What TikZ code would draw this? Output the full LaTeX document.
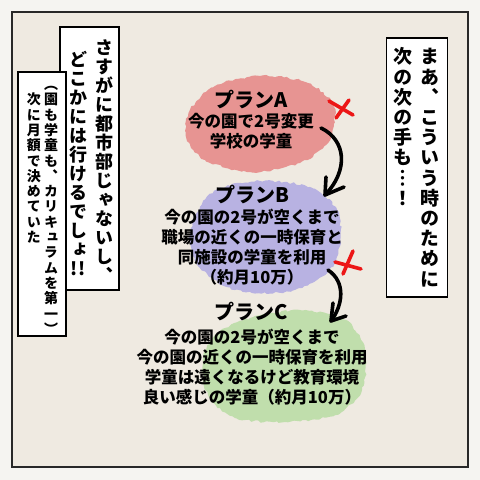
\documentclass[tikz,border=0pt]{standalone}
\usepackage{fontspec}
\usetikzlibrary{decorations.pathmorphing}
\newfontfamily\jp{Noto Sans CJK JP}
\newfontfamily\jpv{Noto Sans CJK JP}[RawFeature=+vert]
\definecolor{outerbg}{RGB}{245,244,241}
\definecolor{paper}{RGB}{239,234,225}
\definecolor{frame}{RGB}{40,40,40}
\definecolor{pinkblob}{RGB}{231,148,146}
\definecolor{purpleblob}{RGB}{184,178,226}
\definecolor{greenblob}{RGB}{192,222,172}
\definecolor{xred}{RGB}{236,22,22}
\makeatletter
\newlength\vcgap
\newcommand\vcol[1]{\vtop{\offinterlineskip\@tfor\vc@x:=#1\do{\hbox to 1em{\vrule height .88em depth .12em width 0pt\hss\vc@x\hss}\vskip\vcgap}}}
\makeatother
\tikzset{
  spbox/.style={draw=black, line width=1.2pt, fill=white, inner sep=0pt},
  vtext/.style={anchor=north, inner sep=0pt, text=black},
  blob/.style={decorate, decoration={random steps, segment length=3pt, amplitude=1.1pt}},
  plantitle/.style={inner sep=0pt, text=black, font=\fontsize{20}{24}\jp\bfseries},
  planbody/.style={inner sep=0pt, text=black, align=center},
  handarrow/.style={line width=3.6pt, line cap=round, line join=round, black},
  redx/.style={line width=3.6pt, line cap=round, xred}
}
\begin{document}
\begin{tikzpicture}[x=1pt, y=-1pt]
\pgfmathsetseed{7}
\useasboundingbox (0,0) rectangle (480,480);
\fill[outerbg] (0,0) rectangle (480,480);
\draw[frame, line width=2.4pt, fill=paper] (12,12) rectangle (468,467);

% colour blobs
\fill[pinkblob, blob] plot[smooth cycle] coordinates {(190,110) (215,86) (260,76) (305,82) (333,104) (330,140) (300,163) (250,172) (205,160) (186,136)};
\fill[purpleblob, blob] plot[smooth cycle] coordinates {(196,214) (216,190) (260,181) (310,187) (337,210) (340,246) (325,275) (285,292) (235,290) (200,268) (190,240)};
\fill[greenblob, blob] plot[smooth cycle] coordinates {(216,334) (250,318) (300,310) (345,320) (365,350) (362,390) (335,415) (285,422) (235,418) (208,395) (203,360)};

% plan A
\node[plantitle] (pa) at (251,100) {プランA};
\node[planbody, font=\fontsize{16.5}{19.5}\jp\bfseries] (pab) at (251,131) {今の園で2号変更\\学校の学童};
% plan B
\node[plantitle] (pb) at (252,195) {プランB};
\node[planbody, font=\fontsize{16.5}{20}\jp\bfseries] (pbb) at (252,247.5) {今の園の2号が空くまで\\職場の近くの一時保育と\\同施設の学童を利用\\（約月10万）};
% plan C
\node[plantitle] (pc) at (251,312) {プランC};
\node[planbody, font=\fontsize{16.5}{20}\jp\bfseries] (pcb) at (252,367.5) {今の園の2号が空くまで\\今の園の近くの一時保育を利用\\学童は遠くなるけど教育環境\\良い感じの学童（約月10万）};

% arrows
\coordinate (a1s) at (321,128);
\coordinate (a1e) at (325,195);
\coordinate (a1l) at (326,177);
\coordinate (a1r) at (344,187);
\draw[handarrow] (a1s) .. controls (346,140) and (349,170) .. (a1e);
\draw[handarrow] (a1l) -- (a1e) -- (a1r);
\coordinate (a2s) at (328,270);
\coordinate (a2e) at (331,321);
\coordinate (a2l) at (333,303);
\coordinate (a2r) at (346,316);
\draw[handarrow] (a2s) .. controls (346,282) and (343,305) .. (a2e);
\draw[handarrow] (a2l) -- (a2e) -- (a2r);

% red crosses
\coordinate (x1a) at (329,101); \coordinate (x1b) at (353,115);
\coordinate (x1c) at (349,100); \coordinate (x1d) at (336,118);
\draw[redx] (x1a) -- (x1b);
\draw[redx] (x1c) -- (x1d);
\coordinate (x2a) at (335,262); \coordinate (x2b) at (361,269);
\coordinate (x2c) at (353,251); \coordinate (x2d) at (343,274);
\draw[redx] (x2a) -- (x2b);
\draw[redx] (x2c) -- (x2d);

% right speech box
\node[spbox, minimum width=61pt, minimum height=259pt] (rbox) at (417,167.5) {};
\node[vtext, font=\fontsize{19}{19}\jpv\bfseries] (r1) at (430,47) {\setlength\vcgap{1.2pt}\vcol{まあ、こういう時のために}};
\node[vtext, font=\fontsize{19}{19}\jpv\bfseries] (r2) at (403,47) {\setlength\vcgap{1.2pt}\vcol{次の次の手も︙！}};

% left speech box
\node[spbox, minimum width=59pt, minimum height=263pt] (lbox) at (89.5,158.5) {};
\node[vtext, font=\fontsize{18}{18}\jpv\bfseries] (l1) at (104,38) {\setlength\vcgap{1pt}\vcol{さすがに都市部じゃないし、}};
\node[vtext, font=\fontsize{18}{18}\jpv\bfseries] (l2) at (78,50) {\setlength\vcgap{1pt}\vcol{どこかには行けるでしょ{!!}}};

% parenthetical box
\node[spbox, minimum width=48pt, minimum height=264pt] (pbox) at (42,204) {};
\node[vtext, font=\fontsize{14}{14}\jpv\bfseries] (p1) at (51,77) {\setlength\vcgap{1.3pt}\vcol{（園も学童も、カリキュラムを第一）}};
\node[vtext, font=\fontsize{14}{14}\jpv\bfseries] (p2) at (34,92.3) {\setlength\vcgap{1.3pt}\vcol{次に月額で決めていた}};
\end{tikzpicture}
\end{document}
